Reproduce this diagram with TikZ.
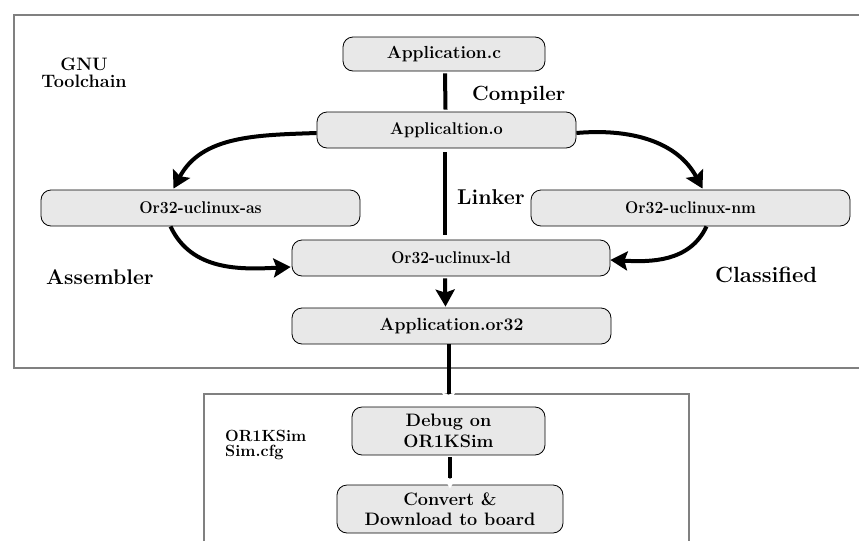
\documentclass[tikz,border=0pt]{standalone}
\usepackage{fontspec}
\usepackage{graphicx}
\usetikzlibrary{arrows.meta}
\begin{document}
\begin{tikzpicture}[x=1pt,y=-1pt,
  box/.style={draw=black,line width=0.8pt,fill=black!9,rounded corners=10pt,inner sep=0pt,align=center},
  frame/.style={draw=black!50,line width=1.5pt},
  conn/.style={line width=4pt,line cap=butt},
  arr/.style={conn,-{Stealth[length=17pt,width=19pt,inset=3pt]}},
  warr/.style={conn,-{Stealth[length=12pt,width=13pt,inset=2pt,color=white]}},
  lab/.style={inner sep=0pt}]
\useasboundingbox (0,0) rectangle (859,541);
% frames
\draw[frame] (859,15) -- (14,15) -- (14,368) -- (859,368);
\draw[frame] (204,541) -- (204,394) -- (689,394) -- (689,541);
% nodes
\node[box,minimum width=202pt,minimum height=34pt,font=\fontsize{17.5}{18}\selectfont\bfseries] (appc) at (444,54) {Application.c};
\node[box,minimum width=259pt,minimum height=36pt,font=\fontsize{17}{18}\selectfont\bfseries] (appo) at (446.5,130) {\scalebox{0.96}[1]{\bfseries Applicaltion.o}};
\node[box,minimum width=319pt,minimum height=36pt,font=\fontsize{17}{18}\selectfont\bfseries] (as) at (200.5,208) {\scalebox{0.93}[1]{\bfseries Or32-uclinux-as}};
\node[box,minimum width=319pt,minimum height=36pt,font=\fontsize{17}{18}\selectfont\bfseries] (nm) at (690.5,208) {\scalebox{0.925}[1]{\bfseries Or32-uclinux-nm}};
\node[box,minimum width=318pt,minimum height=36pt,font=\fontsize{17}{18}\selectfont\bfseries] (ld) at (451,258) {\scalebox{0.915}[1]{\bfseries Or32-uclinux-ld}};
\node[box,minimum width=319pt,minimum height=36pt,font=\fontsize{17.6}{18}\selectfont\bfseries] (or32) at (451.5,326) {Application.or32};
\node[box,minimum width=193pt,minimum height=48pt,font=\fontsize{18}{20.5}\selectfont\bfseries] (dbg) at (448.5,431) {Debug on\\OR1KSim};
\node[box,minimum width=226pt,minimum height=48pt,font=\fontsize{18}{20.5}\selectfont\bfseries] (conv) at (450,509) {Convert \&\\Download to board};
% labels
\node[lab,font=\fontsize{18}{17}\selectfont\bfseries,align=center] (gnu) at (84,73) {GNU\\Toolchain};
\node[lab,font=\fontsize{16.2}{15.5}\selectfont\bfseries,align=left,anchor=west] (sim) at (225,445) {OR1KSim\\Sim.cfg};
\node[lab,font=\fontsize{20.5}{22}\selectfont\bfseries,anchor=west] (comp) at (472,95) {Compiler};
\node[lab,font=\fontsize{21.4}{22}\selectfont\bfseries,anchor=west] (link) at (457,197) {Linker};
\node[lab,font=\fontsize{21.2}{22}\selectfont\bfseries,anchor=west] (asm) at (46,277) {Assembler};
\node[lab,font=\fontsize{22}{22}\selectfont\bfseries,anchor=west] (cls) at (715,275) {Classified};
% connectors
\draw[conn] ([xshift=1pt,yshift=-2pt]appc.south) -- ([xshift=-1pt,yshift=2pt]appo.north);
\draw[conn] ([xshift=-1.5pt,yshift=-4pt]appo.south) -- ([xshift=-6pt,yshift=5pt]ld.north);
\draw[arr] ([xshift=-6pt,yshift=-2pt]ld.south) -- ([xshift=-6pt,yshift=1pt]or32.north);
\draw[warr] ([xshift=-3pt]or32.south) -- ([yshift=2pt]dbg.north);
\draw[warr] ([xshift=1.5pt,yshift=-2pt]dbg.south) -- ([yshift=-4pt]conv.north);
\draw[arr] ([yshift=-3pt]appo.west) to[out=182,in=62] ([xshift=-27pt,yshift=1pt]as.north);
\draw[arr] ([yshift=-3pt]appo.east) to[out=5,in=118] ([xshift=12pt,yshift=1pt]nm.north);
\draw[arr] ([xshift=-30pt]as.south) to[out=-65,in=183] ([xshift=-1pt,yshift=-9pt]ld.west);
\draw[arr] ([xshift=16pt]nm.south) to[out=-115,in=-3] ([xshift=0pt,yshift=-2pt]ld.east);
\end{tikzpicture}
\end{document}
